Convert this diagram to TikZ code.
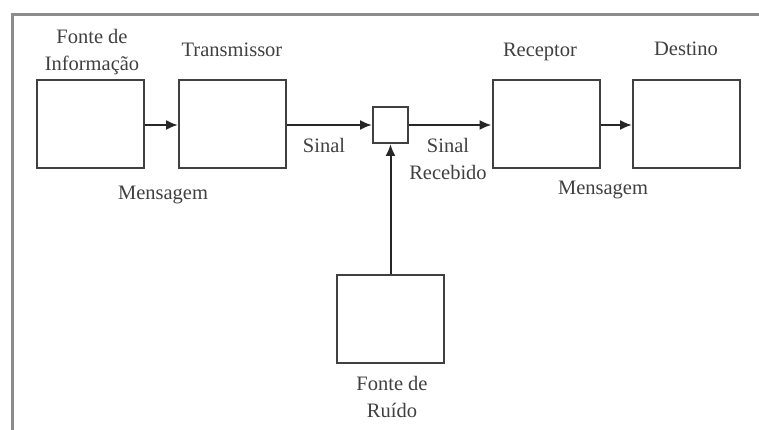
\documentclass[tikz,border=0pt]{standalone}
\usepackage{fontspec}
\setmainfont{Liberation Serif}
\usetikzlibrary{arrows.meta}
\begin{document}
\begin{tikzpicture}[x=1pt,y=-1pt,
  blk/.style={draw=black!75,line width=2pt,minimum width=107pt,minimum height=88pt,inner sep=0pt},
  sm/.style={draw=black!75,line width=2pt,minimum width=35pt,minimum height=36pt,inner sep=0pt},
  lbl/.style={font=\fontsize{20.5}{27}\selectfont,text=black!75,align=center,inner sep=0pt},
  conn/.style={draw=black!85,line width=2pt,-{Latex[length=12pt,width=10pt]}}]
\useasboundingbox (0,0) rectangle (759,430);
\fill[white] (0,0) rectangle (759,430);
\draw[black!45,line width=3pt] (12,440) -- (12,15) -- (770,15);
\node[blk] (fi) at (90,124) {};
\node[blk] (tx) at (232.5,124) {};
\node[sm] (mx) at (390.5,125) {};
\node[blk] (rx) at (546,124) {};
\node[blk] (ds) at (686.5,124) {};
\node[blk] (nz) at (390.5,319) {};
\draw[conn] (fi.east |- 0,125) -- (tx.west |- 0,125);
\draw[conn] (tx.east |- 0,125) -- (mx.west);
\draw[conn] (mx.east) -- (rx.west |- 0,125);
\draw[conn] (rx.east |- 0,125) -- (ds.west |- 0,125);
\draw[conn] (nz.north) -- (mx.south);
\node[lbl] (l1) at (92,52) {Fonte de\\Informação};
\node[lbl] (l2) at (232,50) {Transmissor};
\node[lbl] (l3) at (324,145) {Sinal};
\node[lbl] (l4) at (163,195) {Mensagem};
\node[lbl] (l5) at (448,159) {Sinal\\Recebido};
\node[lbl] (l6) at (540,52) {Receptor};
\node[lbl] (l7) at (686,49) {Destino};
\node[lbl] (l8) at (603,190) {Mensagem};
\node[lbl] (l9) at (392,397) {Fonte de\\Ruído};
\end{tikzpicture}
\end{document}
